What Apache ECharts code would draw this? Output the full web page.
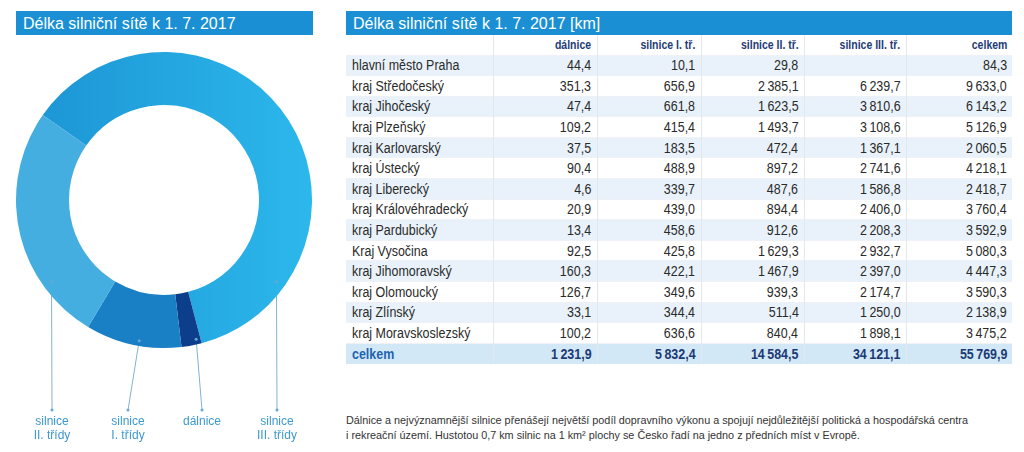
<!DOCTYPE html>
<html><head><meta charset="utf-8">
<script src="https://cdn.jsdelivr.net/npm/echarts@6/dist/echarts.min.js"></script>
<style>
html,body{margin:0;padding:0;background:#fff;width:1024px;height:452px;overflow:hidden;font-family:"Liberation Sans",Arial,sans-serif;}
.bar{position:absolute;top:11px;height:24px;line-height:25px;background:#1b8fd3;color:#fff;font-size:16px;padding-left:7px;box-sizing:border-box;}
#chart{position:absolute;left:0;top:0;width:335px;height:452px;}
table{position:absolute;left:346px;top:35px;width:666px;border-collapse:collapse;table-layout:fixed;font-family:"Liberation Sans",Arial,sans-serif;font-size:14px;color:#2a2a2a;}
td,th{padding:0 5px 0 6px;height:20.6px;box-sizing:border-box;border-left:1px solid #e3e8ee;border-top:1px solid #eef2f6;white-space:nowrap;overflow:visible;}
td:first-child,th:first-child{border-left:none;text-align:left;}
td{text-align:right;}
th{text-align:right;font-size:12.5px;font-weight:bold;color:#1e3c78;height:20px;border-top:none;}
td span,th span{display:inline-block;transform:scaleX(0.89);transform-origin:right center;}
td:first-child span{transform-origin:left center;}
th span{transform:scaleX(0.84);}
tr.odd td{background:#e9f2fa;}
tr.tot td{background:#d3e8f7;font-weight:bold;color:#1b3a74;}
tr.tot td:first-child{color:#1d64b0;}
#note{position:absolute;left:346px;top:413px;font-family:"Liberation Sans",Arial,sans-serif;font-size:11.5px;line-height:15px;color:#333;white-space:nowrap;transform:scaleX(0.94);transform-origin:left top;}
</style></head>
<body>
<div class="bar" style="left:16px;width:297px;">Délka silniční sítě k 1. 7. 2017</div>
<div id="chart"></div>
<div class="bar" style="left:346px;width:666px;">Délka silniční sítě k 1. 7. 2017 [km]</div>
<table id="tbl"></table>
<div id="note">Dálnice a nejvýznamnější silnice přenášejí největší podíl dopravního výkonu a spojují nejdůležitější politická a hospodářská centra<br>i rekreační území. Hustotou 0,7 km silnic na 1 km² plochy se Česko řadí na jedno z předních míst v Evropě.</div>
<script>
// ---- data ----
const columns = ["dálnice", "silnice I. tř.", "silnice II. tř.", "silnice III. tř.", "celkem"];
const regions = ["hlavní město Praha","kraj Středočeský","kraj Jihočeský","kraj Plzeňský","kraj Karlovarský","kraj Ústecký","kraj Liberecký","kraj Královéhradecký","kraj Pardubický","Kraj Vysočina","kraj Jihomoravský","kraj Olomoucký","kraj Zlínský","kraj Moravskoslezský"];
const dalnice = [44.4,351.3,47.4,109.2,37.5,90.4,4.6,20.9,13.4,92.5,160.3,126.7,33.1,100.2];
const silniceI = [10.1,656.9,661.8,415.4,183.5,488.9,339.7,439.0,458.6,425.8,422.1,349.6,344.4,636.6];
const silniceII = [29.8,2385.1,1623.5,1493.7,472.4,897.2,487.6,894.4,912.6,1629.3,1467.9,939.3,511.4,840.4];
const silniceIII = [null,6239.7,3810.6,3108.6,1367.1,2741.6,1586.8,2406.0,2208.3,2932.7,2397.0,2174.7,1250.0,1898.1];
const celkem = [84.3,9633.0,6143.2,5126.9,2060.5,4218.1,2418.7,3760.4,3592.9,5080.3,4447.3,3590.3,2138.9,3475.2];
const totalLabel = "celkem";
const totals = [1231.9,5832.4,14584.5,34121.1,55769.9];

// donut slices (clockwise order as drawn)
const sliceNames = ["silnice\nIII. třídy","dálnice","silnice\nI. třídy","silnice\nII. třídy"];
const sliceValues = [totals[3], totals[0], totals[1], totals[2]];

// ---- table ----
function fmt(v){
  if(v===null||v===undefined) return "";
  const s = v.toFixed(1).split(".");
  const int = s[0].replace(/\B(?=(\d{3})+(?!\d))/g, "\u2009");
  return int + "," + s[1];
}
const sp = t => '<span>'+t+'</span>';
const tbl = document.getElementById("tbl");
let html = '<colgroup><col style="width:147px"><col style="width:104px"><col style="width:104px"><col style="width:103px"><col style="width:102px"><col style="width:106px"></colgroup>';
html += '<tr><th></th>' + columns.map(c=>'<th>'+sp(c)+'</th>').join('') + '</tr>';
regions.forEach((r,i)=>{
  const vals=[dalnice[i],silniceI[i],silniceII[i],silniceIII[i],celkem[i]];
  html += '<tr class="'+(i%2===0?'odd':'')+'"><td>'+sp(r)+'</td>'+vals.map(v=>'<td>'+sp(fmt(v))+'</td>').join('')+'</tr>';
});
html += '<tr class="tot"><td>'+sp(totalLabel)+'</td>'+totals.map(v=>'<td>'+sp(fmt(v))+'</td>').join('')+'</tr>';
tbl.innerHTML = html;

// ---- chart ----
const CX = 164, CY = 200;
// leader line layout: anchor angle (deg clockwise from top), anchor radius, label x
const leaders = [
  {a:126, r:139, x:277},
  {a:167, r:143, x:202},
  {a:190, r:143, x:128},
  {a:234, r:139, x:52}
];
const LINE_END_Y = 410, LABEL_Y = 415;
const anchor = L => {
  const rad = L.a*Math.PI/180;
  return [CX + L.r*Math.sin(rad), CY - L.r*Math.cos(rad)];
};
const dots = [];
leaders.forEach(L=>{
  const p = anchor(L);
  dots.push({type:'circle',shape:{cx:p[0],cy:p[1],r:1.5},style:{fill:'#6aa6d3'},z:100});
  dots.push({type:'circle',shape:{cx:L.x,cy:LINE_END_Y,r:1.5},style:{fill:'#6aa6d3'},z:100});
});

const chart = echarts.init(document.getElementById("chart"));
chart.setOption({
  animation:false,
  graphic:dots,
  series:[{
    type:'pie',
    center:[CX,CY],
    radius:[95,148],
    startAngle:145,
    clockwise:true,
    silent:true,
    avoidLabelOverlap:false,
    data: sliceNames.map((n,i)=>({name:n,value:sliceValues[i]})),
    itemStyle:{borderWidth:0},
    color:[
      new echarts.graphic.LinearGradient(0,0,1,0,[{offset:0,color:'#1d96d5'},{offset:1,color:'#2cb8ec'}]),
      '#0d3e8c','#1a80c6','#45aee0'
    ],
    label:{show:true,position:'outside',formatter:'{b}',color:'#3d98d0',fontSize:12,lineHeight:14,
      overflow:'none',width:null,
      fontFamily:'"Liberation Sans", Arial, sans-serif',align:'center'},
    labelLine:{show:true,length:5,length2:5,lineStyle:{color:'#7fb3d6',width:1}},
    labelLayout:function(p){
      const L = leaders[p.dataIndex];
      const a = anchor(L);
      return {x:L.x, y:LABEL_Y, align:'center', verticalAlign:'top',
        labelLinePoints:[a,[L.x,LINE_END_Y],[L.x,LINE_END_Y]]};
    }
  }]
});
</script>
</body></html>
